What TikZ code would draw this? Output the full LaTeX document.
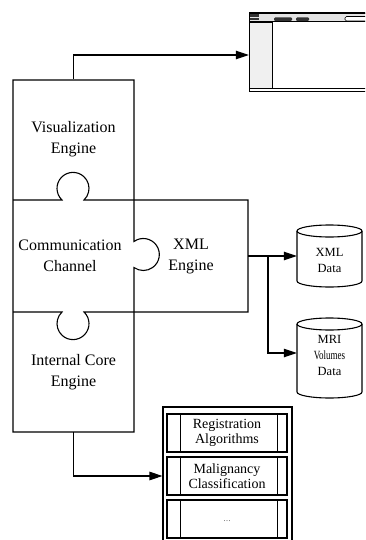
\documentclass[tikz,border=0pt]{standalone}
\usepackage{fontspec}
\usepackage{graphicx}
\setmainfont{Liberation Serif}
\usetikzlibrary{arrows.meta,calc}
\begin{document}
\begin{tikzpicture}[x=1pt,y=-1pt,
  edge/.style={line width=1.1pt},
  arr/.style={line width=1.1pt,-{Triangle[length=13pt,width=8.5pt]}},
  piece/.style={inner sep=0pt,align=center,font=\fontsize{16}{21}\selectfont},
  cyltext/.style={inner sep=0pt,align=center,font=\fontsize{12.5}{16}\selectfont},
  stackbox/.style={draw,line width=1.1pt,inner sep=0pt,minimum width=120pt,minimum height=38pt,align=center,font=\fontsize{14}{15}\selectfont},
  anchorbox/.style={inner sep=0pt}
]
\useasboundingbox (0,0) rectangle (365,540);
\clip (0,0) rectangle (365,540);

% ---------- window ----------
\draw[line width=0.8pt, fill=white] (249,13) rectangle (372,91);
\fill[gray!22] (249.5,13.5) rectangle (372,21.5);
\draw[line width=1.4pt] (249,13) -- (372,13);
\draw[line width=1pt] (249,22) -- (372,22);
\draw[line width=0.8pt, fill=gray!12] (249,22) rectangle (272,88);
\draw[line width=0.8pt] (249,88) -- (372,88);
\fill[black!80] (250,14) rectangle (259,17);
\fill[black!80] (250,18) rectangle (259,20.5);
\fill[black!80, rounded corners=1pt] (274,17.5) rectangle (292,20.8);
\fill[black!80, rounded corners=1pt] (296,17.5) rectangle (309,20.8);
\draw[line width=0.6pt, fill=white, rounded corners=1.5pt] (345,16.5) rectangle (375,21);
\node[anchorbox, minimum width=123pt, minimum height=78pt] (win) at (310.5,52) {};

% ---------- puzzle pieces ----------
\draw[edge] (13,80) -- (134,80) -- (134,241.5)
  arc[start angle=234.33, end angle=485.67, radius=16]
  -- (134,432) -- (13,432) -- cycle;
\draw[edge] (13,200) -- (62,200)
  arc[start angle=133.43, end angle=406.57, radius=16]
  -- (248,200) -- (248,312) -- (84,312)
  arc[start angle=-46.57, end angle=226.57, radius=16]
  -- (13,312);

\node[piece, minimum width=121pt, minimum height=120pt] (vis) at (73.5,139) {Visualization\\Engine};
\node[piece] (comm) at (70,255.5) {Communication\\Channel};
\node[piece, minimum width=114pt, minimum height=112pt] (xml) at (191,256) {XML\\Engine};
\node[piece, minimum width=121pt, minimum height=120pt] (core) at (73.5,372) {Internal Core\\Engine};

% ---------- cylinders ----------
\draw[edge] (297,231) -- (297,281) arc[start angle=180, end angle=0, x radius=32.5, y radius=6] -- (362,231);
\draw[edge] (329.5,231) ellipse [x radius=32.5, y radius=6];
\node[anchorbox, minimum width=65pt, minimum height=62pt] (xmld) at (329.5,256) {};
\node[cyltext] (xmldt) at (329.5,260) {XML\\Data};

\draw[edge] (297,324) -- (297,392) arc[start angle=180, end angle=0, x radius=32.5, y radius=6] -- (362,324);
\draw[edge] (329.5,324) ellipse [x radius=32.5, y radius=6];
\node[anchorbox, minimum width=65pt, minimum height=80pt] (mri) at (329.5,358) {};
\node[cyltext] (mrit) at (329.5,355) {MRI\\\scalebox{0.72}[1]{Volumes}\\Data};

% ---------- stack ----------
\node[draw, line width=1.1pt, inner sep=0pt, minimum width=129pt, minimum height=138pt] (stack) at (227.5,476) {};
\node[stackbox] (b1) at (227,433) {Registration\\Algorithms};
\node[stackbox] (b2) at (227,476) {Malignancy\\Classification};
\node[stackbox] (b3) at (227,519) {};
\node[inner sep=0pt, font=\fontsize{7}{8}\selectfont] (dots) at (227,521) {…};
\foreach \b in {b1,b2,b3}{
  \draw[edge] ([xshift=14pt]\b.north west) -- ([xshift=14pt]\b.south west);
  \draw[edge] ([xshift=-10.5pt]\b.north east) -- ([xshift=-10.5pt]\b.south east);
}

% ---------- connectors ----------
\coordinate (br) at (268,256);
\draw[arr] (vis.north) |- ([yshift=-3pt]win.west);
\draw[arr] (xml.east) -- (xmld.west);
\draw[arr] (br) |- ([yshift=5pt]mri.west);
\draw[arr] (core.south) |- (stack.west);
\end{tikzpicture}
\end{document}
